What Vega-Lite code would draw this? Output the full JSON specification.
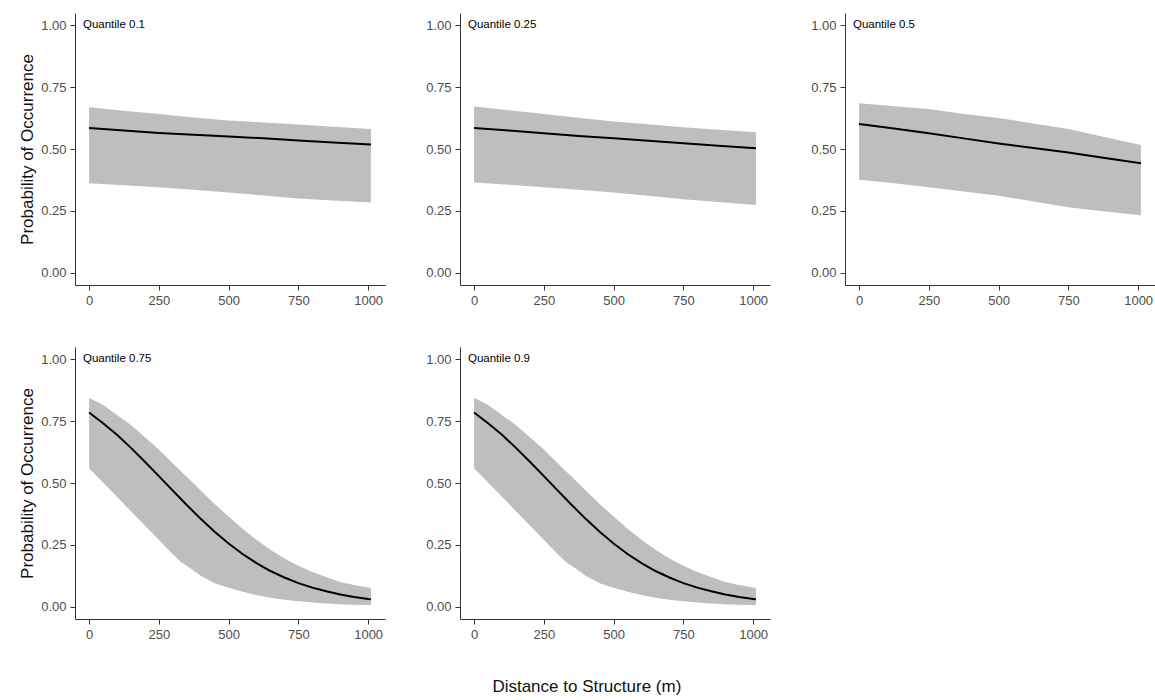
{
  "$schema": "https://vega.github.io/schema/vega-lite/v6.json",
  "padding": {"left": 18, "top": 13, "right": 0, "bottom": 0},
  "background": "white",
  "datasets": {
    "curves": [
      {"q": "Quantile 0.1", "x": 0, "mean": 0.585, "lo": 0.361, "hi": 0.669},
      {"q": "Quantile 0.1", "x": 125, "mean": 0.575, "lo": 0.353, "hi": 0.655},
      {"q": "Quantile 0.1", "x": 250, "mean": 0.565, "lo": 0.345, "hi": 0.642},
      {"q": "Quantile 0.1", "x": 375, "mean": 0.558, "lo": 0.335, "hi": 0.627},
      {"q": "Quantile 0.1", "x": 500, "mean": 0.551, "lo": 0.324, "hi": 0.615},
      {"q": "Quantile 0.1", "x": 625, "mean": 0.543, "lo": 0.312, "hi": 0.607},
      {"q": "Quantile 0.1", "x": 750, "mean": 0.534, "lo": 0.300, "hi": 0.599},
      {"q": "Quantile 0.1", "x": 875, "mean": 0.526, "lo": 0.292, "hi": 0.590},
      {"q": "Quantile 0.1", "x": 1010, "mean": 0.518, "lo": 0.284, "hi": 0.581},

      {"q": "Quantile 0.25", "x": 0, "mean": 0.585, "lo": 0.365, "hi": 0.672},
      {"q": "Quantile 0.25", "x": 125, "mean": 0.575, "lo": 0.355, "hi": 0.657},
      {"q": "Quantile 0.25", "x": 250, "mean": 0.564, "lo": 0.345, "hi": 0.642},
      {"q": "Quantile 0.25", "x": 375, "mean": 0.553, "lo": 0.335, "hi": 0.626},
      {"q": "Quantile 0.25", "x": 500, "mean": 0.543, "lo": 0.324, "hi": 0.611},
      {"q": "Quantile 0.25", "x": 625, "mean": 0.533, "lo": 0.311, "hi": 0.600},
      {"q": "Quantile 0.25", "x": 750, "mean": 0.523, "lo": 0.297, "hi": 0.588},
      {"q": "Quantile 0.25", "x": 875, "mean": 0.513, "lo": 0.286, "hi": 0.578},
      {"q": "Quantile 0.25", "x": 1010, "mean": 0.503, "lo": 0.274, "hi": 0.568},

      {"q": "Quantile 0.5", "x": 0, "mean": 0.601, "lo": 0.376, "hi": 0.685},
      {"q": "Quantile 0.5", "x": 125, "mean": 0.583, "lo": 0.361, "hi": 0.673},
      {"q": "Quantile 0.5", "x": 250, "mean": 0.564, "lo": 0.345, "hi": 0.662},
      {"q": "Quantile 0.5", "x": 375, "mean": 0.543, "lo": 0.328, "hi": 0.642},
      {"q": "Quantile 0.5", "x": 500, "mean": 0.522, "lo": 0.311, "hi": 0.625},
      {"q": "Quantile 0.5", "x": 625, "mean": 0.504, "lo": 0.288, "hi": 0.603},
      {"q": "Quantile 0.5", "x": 750, "mean": 0.486, "lo": 0.264, "hi": 0.581},
      {"q": "Quantile 0.5", "x": 875, "mean": 0.465, "lo": 0.248, "hi": 0.550},
      {"q": "Quantile 0.5", "x": 1010, "mean": 0.442, "lo": 0.232, "hi": 0.516},

      {"q": "Quantile 0.75", "x": 0, "mean": 0.785, "lo": 0.560, "hi": 0.845},
      {"q": "Quantile 0.75", "x": 50, "mean": 0.742, "lo": 0.502, "hi": 0.815},
      {"q": "Quantile 0.75", "x": 100, "mean": 0.695, "lo": 0.444, "hi": 0.775},
      {"q": "Quantile 0.75", "x": 150, "mean": 0.642, "lo": 0.386, "hi": 0.735},
      {"q": "Quantile 0.75", "x": 200, "mean": 0.586, "lo": 0.328, "hi": 0.685},
      {"q": "Quantile 0.75", "x": 250, "mean": 0.528, "lo": 0.270, "hi": 0.635},
      {"q": "Quantile 0.75", "x": 300, "mean": 0.469, "lo": 0.212, "hi": 0.580},
      {"q": "Quantile 0.75", "x": 330, "mean": 0.434, "lo": 0.180, "hi": 0.547},
      {"q": "Quantile 0.75", "x": 350, "mean": 0.411, "lo": 0.165, "hi": 0.525},
      {"q": "Quantile 0.75", "x": 400, "mean": 0.355, "lo": 0.125, "hi": 0.470},
      {"q": "Quantile 0.75", "x": 450, "mean": 0.303, "lo": 0.095, "hi": 0.415},
      {"q": "Quantile 0.75", "x": 500, "mean": 0.255, "lo": 0.076, "hi": 0.365},
      {"q": "Quantile 0.75", "x": 550, "mean": 0.213, "lo": 0.060, "hi": 0.315},
      {"q": "Quantile 0.75", "x": 600, "mean": 0.176, "lo": 0.047, "hi": 0.270},
      {"q": "Quantile 0.75", "x": 650, "mean": 0.144, "lo": 0.036, "hi": 0.230},
      {"q": "Quantile 0.75", "x": 700, "mean": 0.118, "lo": 0.028, "hi": 0.195},
      {"q": "Quantile 0.75", "x": 750, "mean": 0.095, "lo": 0.022, "hi": 0.165},
      {"q": "Quantile 0.75", "x": 800, "mean": 0.077, "lo": 0.017, "hi": 0.140},
      {"q": "Quantile 0.75", "x": 850, "mean": 0.062, "lo": 0.013, "hi": 0.120},
      {"q": "Quantile 0.75", "x": 900, "mean": 0.049, "lo": 0.010, "hi": 0.100},
      {"q": "Quantile 0.75", "x": 950, "mean": 0.039, "lo": 0.008, "hi": 0.088},
      {"q": "Quantile 0.75", "x": 1000, "mean": 0.031, "lo": 0.007, "hi": 0.077},
      {"q": "Quantile 0.75", "x": 1010, "mean": 0.030, "lo": 0.007, "hi": 0.075},

      {"q": "Quantile 0.9", "x": 0, "mean": 0.785, "lo": 0.560, "hi": 0.845},
      {"q": "Quantile 0.9", "x": 50, "mean": 0.742, "lo": 0.502, "hi": 0.815},
      {"q": "Quantile 0.9", "x": 100, "mean": 0.695, "lo": 0.444, "hi": 0.775},
      {"q": "Quantile 0.9", "x": 150, "mean": 0.642, "lo": 0.386, "hi": 0.735},
      {"q": "Quantile 0.9", "x": 200, "mean": 0.586, "lo": 0.328, "hi": 0.685},
      {"q": "Quantile 0.9", "x": 250, "mean": 0.528, "lo": 0.270, "hi": 0.635},
      {"q": "Quantile 0.9", "x": 300, "mean": 0.469, "lo": 0.212, "hi": 0.580},
      {"q": "Quantile 0.9", "x": 330, "mean": 0.434, "lo": 0.180, "hi": 0.547},
      {"q": "Quantile 0.9", "x": 350, "mean": 0.411, "lo": 0.165, "hi": 0.525},
      {"q": "Quantile 0.9", "x": 400, "mean": 0.355, "lo": 0.125, "hi": 0.470},
      {"q": "Quantile 0.9", "x": 450, "mean": 0.303, "lo": 0.095, "hi": 0.415},
      {"q": "Quantile 0.9", "x": 500, "mean": 0.255, "lo": 0.076, "hi": 0.365},
      {"q": "Quantile 0.9", "x": 550, "mean": 0.213, "lo": 0.060, "hi": 0.315},
      {"q": "Quantile 0.9", "x": 600, "mean": 0.176, "lo": 0.047, "hi": 0.270},
      {"q": "Quantile 0.9", "x": 650, "mean": 0.144, "lo": 0.036, "hi": 0.230},
      {"q": "Quantile 0.9", "x": 700, "mean": 0.118, "lo": 0.028, "hi": 0.195},
      {"q": "Quantile 0.9", "x": 750, "mean": 0.095, "lo": 0.022, "hi": 0.165},
      {"q": "Quantile 0.9", "x": 800, "mean": 0.077, "lo": 0.017, "hi": 0.140},
      {"q": "Quantile 0.9", "x": 850, "mean": 0.062, "lo": 0.013, "hi": 0.120},
      {"q": "Quantile 0.9", "x": 900, "mean": 0.049, "lo": 0.010, "hi": 0.100},
      {"q": "Quantile 0.9", "x": 950, "mean": 0.039, "lo": 0.008, "hi": 0.088},
      {"q": "Quantile 0.9", "x": 1000, "mean": 0.031, "lo": 0.007, "hi": 0.077},
      {"q": "Quantile 0.9", "x": 1010, "mean": 0.030, "lo": 0.007, "hi": 0.075}
    ]
  },
  "title": {
    "text": "Distance to Structure (m)",
    "orient": "bottom",
    "anchor": "middle",
    "fontSize": 17,
    "fontWeight": "normal",
    "font": "Liberation Sans",
    "color": "#111",
    "offset": 38
  },
  "spacing": 40,
  "vconcat": [
    {
      "spacing": 40,
      "hconcat": [
        {
          "width": 310, "height": 272,
          "data": {"name": "curves"},
          "transform": [{"filter": "datum.q == 'Quantile 0.1'"}],
          "layer": [
            {"mark": {"type": "area", "color": "#BEBEBE"},
             "encoding": {"x": {"field": "x", "type": "quantitative", "scale": {"domain": [-50.5, 1060.5], "nice": false, "zero": false}, "axis": {"values": [0, 250, 500, 750, 1000], "format": "d", "title": null}},
                          "y": {"field": "lo", "type": "quantitative", "scale": {"domain": [-0.05, 1.05], "nice": false, "zero": false}, "axis": {"values": [0, 0.25, 0.5, 0.75, 1], "format": ".2f", "title": "Probability of Occurrence"}},
                          "y2": {"field": "hi"}}},
            {"mark": {"type": "line", "color": "black", "strokeWidth": 2},
             "encoding": {"x": {"field": "x", "type": "quantitative"}, "y": {"field": "mean", "type": "quantitative"}}},
            {"data": {"values": [{"label": "Quantile 0.1"}]},
             "mark": {"type": "text", "align": "left", "baseline": "middle", "fontSize": 11.5, "font": "Liberation Sans", "color": "black"},
             "encoding": {"x": {"datum": -22}, "y": {"datum": 1.0}, "text": {"field": "label"}}}
          ]
        },
        {
          "width": 310, "height": 272,
          "data": {"name": "curves"},
          "transform": [{"filter": "datum.q == 'Quantile 0.25'"}],
          "layer": [
            {"mark": {"type": "area", "color": "#BEBEBE"},
             "encoding": {"x": {"field": "x", "type": "quantitative", "scale": {"domain": [-50.5, 1060.5], "nice": false, "zero": false}, "axis": {"values": [0, 250, 500, 750, 1000], "format": "d", "title": null}},
                          "y": {"field": "lo", "type": "quantitative", "scale": {"domain": [-0.05, 1.05], "nice": false, "zero": false}, "axis": {"values": [0, 0.25, 0.5, 0.75, 1], "format": ".2f", "title": null}},
                          "y2": {"field": "hi"}}},
            {"mark": {"type": "line", "color": "black", "strokeWidth": 2},
             "encoding": {"x": {"field": "x", "type": "quantitative"}, "y": {"field": "mean", "type": "quantitative"}}},
            {"data": {"values": [{"label": "Quantile 0.25"}]},
             "mark": {"type": "text", "align": "left", "baseline": "middle", "fontSize": 11.5, "font": "Liberation Sans", "color": "black"},
             "encoding": {"x": {"datum": -22}, "y": {"datum": 1.0}, "text": {"field": "label"}}}
          ]
        },
        {
          "width": 310, "height": 272,
          "data": {"name": "curves"},
          "transform": [{"filter": "datum.q == 'Quantile 0.5'"}],
          "layer": [
            {"mark": {"type": "area", "color": "#BEBEBE"},
             "encoding": {"x": {"field": "x", "type": "quantitative", "scale": {"domain": [-50.5, 1060.5], "nice": false, "zero": false}, "axis": {"values": [0, 250, 500, 750, 1000], "format": "d", "title": null}},
                          "y": {"field": "lo", "type": "quantitative", "scale": {"domain": [-0.05, 1.05], "nice": false, "zero": false}, "axis": {"values": [0, 0.25, 0.5, 0.75, 1], "format": ".2f", "title": null}},
                          "y2": {"field": "hi"}}},
            {"mark": {"type": "line", "color": "black", "strokeWidth": 2},
             "encoding": {"x": {"field": "x", "type": "quantitative"}, "y": {"field": "mean", "type": "quantitative"}}},
            {"data": {"values": [{"label": "Quantile 0.5"}]},
             "mark": {"type": "text", "align": "left", "baseline": "middle", "fontSize": 11.5, "font": "Liberation Sans", "color": "black"},
             "encoding": {"x": {"datum": -22}, "y": {"datum": 1.0}, "text": {"field": "label"}}}
          ]
        }
      ]
    },
    {
      "spacing": 40,
      "hconcat": [
        {
          "width": 310, "height": 272,
          "data": {"name": "curves"},
          "transform": [{"filter": "datum.q == 'Quantile 0.75'"}],
          "layer": [
            {"mark": {"type": "area", "color": "#BEBEBE"},
             "encoding": {"x": {"field": "x", "type": "quantitative", "scale": {"domain": [-50.5, 1060.5], "nice": false, "zero": false}, "axis": {"values": [0, 250, 500, 750, 1000], "format": "d", "title": null}},
                          "y": {"field": "lo", "type": "quantitative", "scale": {"domain": [-0.05, 1.05], "nice": false, "zero": false}, "axis": {"values": [0, 0.25, 0.5, 0.75, 1], "format": ".2f", "title": "Probability of Occurrence"}},
                          "y2": {"field": "hi"}}},
            {"mark": {"type": "line", "color": "black", "strokeWidth": 2},
             "encoding": {"x": {"field": "x", "type": "quantitative"}, "y": {"field": "mean", "type": "quantitative"}}},
            {"data": {"values": [{"label": "Quantile 0.75"}]},
             "mark": {"type": "text", "align": "left", "baseline": "middle", "fontSize": 11.5, "font": "Liberation Sans", "color": "black"},
             "encoding": {"x": {"datum": -22}, "y": {"datum": 1.0}, "text": {"field": "label"}}}
          ]
        },
        {
          "width": 310, "height": 272,
          "data": {"name": "curves"},
          "transform": [{"filter": "datum.q == 'Quantile 0.9'"}],
          "layer": [
            {"mark": {"type": "area", "color": "#BEBEBE"},
             "encoding": {"x": {"field": "x", "type": "quantitative", "scale": {"domain": [-50.5, 1060.5], "nice": false, "zero": false}, "axis": {"values": [0, 250, 500, 750, 1000], "format": "d", "title": null}},
                          "y": {"field": "lo", "type": "quantitative", "scale": {"domain": [-0.05, 1.05], "nice": false, "zero": false}, "axis": {"values": [0, 0.25, 0.5, 0.75, 1], "format": ".2f", "title": null}},
                          "y2": {"field": "hi"}}},
            {"mark": {"type": "line", "color": "black", "strokeWidth": 2},
             "encoding": {"x": {"field": "x", "type": "quantitative"}, "y": {"field": "mean", "type": "quantitative"}}},
            {"data": {"values": [{"label": "Quantile 0.9"}]},
             "mark": {"type": "text", "align": "left", "baseline": "middle", "fontSize": 11.5, "font": "Liberation Sans", "color": "black"},
             "encoding": {"x": {"datum": -22}, "y": {"datum": 1.0}, "text": {"field": "label"}}}
          ]
        }
      ]
    }
  ],
  "config": {
    "view": {"stroke": null},
    "axis": {
      "grid": false,
      "domainColor": "#333333",
      "domainWidth": 1,
      "tickColor": "#333333",
      "tickSize": 5,
      "labelFont": "Liberation Sans",
      "labelFontSize": 13,
      "labelColor": "#4D4D4D",
      "labelPadding": 4,
      "titleFont": "Liberation Sans",
      "titleFontSize": 17,
      "titleFontWeight": "normal",
      "titleColor": "#111111",
      "titlePadding": 4
    }
  }
}
